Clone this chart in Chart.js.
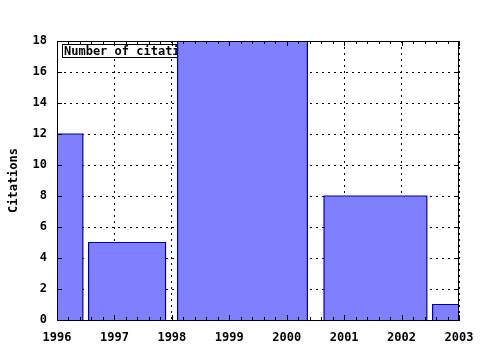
<!DOCTYPE html>
<html>
<head>
<meta charset="utf-8">
<script src="https://cdn.jsdelivr.net/npm/chart.js@4/dist/chart.umd.min.js"></script>
<style>
  html, body { margin: 0; padding: 0; background: #fff; }
  canvas { display: block; }
</style>
</head>
<body>
<canvas id="chart" width="480" height="350"></canvas>
<script>
// Citations per period (bars span from barStart to barEnd on the year axis)
const barStart  = [1996.0, 1996.55, 1998.10, 2000.65, 2002.54];
const barEnd    = [1996.45, 1997.89, 2000.36, 2002.44, 2003.0];
const citations = [12, 5, 18, 8, 1];
const seriesName = 'Number of citations';

const FONT = { family: 'DejaVu Sans Mono', size: 12, weight: 'bold' };

// one closed rectangle per bar, filled down to y = 0
const datasets = citations.map((v, i) => ({
  label: seriesName,
  data: [
    { x: barStart[i], y: 0 },
    { x: barStart[i], y: v },
    { x: barEnd[i],   y: v },
    { x: barEnd[i],   y: 0 },
  ],
  showLine: true,
  fill: 'origin',
  backgroundColor: '#8080ff',
  borderColor: '#0000a0',
  borderWidth: 1.2,
  pointRadius: 0,
  tension: 0,
}));

/* ── Key box, drawn under the bars ─────────────────── */
const keyBox = {
  id: 'keyBox',
  beforeDatasetsDraw(chart) {
    const { ctx, chartArea } = chart;
    ctx.save();
    ctx.font = `${FONT.weight} ${FONT.size}px "${FONT.family}"`;
    const x = chartArea.left + 5.5, y = chartArea.top + 3.5;
    const w = ctx.measureText(seriesName).width + 4, h = 13;
    ctx.fillStyle = '#fff';
    ctx.fillRect(x, y, w, h);
    ctx.strokeStyle = '#000';
    ctx.lineWidth = 1;
    ctx.strokeRect(x, y, w, h);
    ctx.fillStyle = '#000';
    ctx.textBaseline = 'middle';
    ctx.fillText(seriesName, x + 1.5, y + h / 2 + 0.5);
    ctx.restore();
  },
};

/* ── Frame + inward tick marks ─────────────────────── */
const frame = {
  id: 'frame',
  afterDatasetsDraw(chart) {
    const { ctx, chartArea: a, scales } = chart;
    ctx.save();
    ctx.strokeStyle = '#000';
    ctx.lineWidth = 1;
    ctx.strokeRect(Math.round(a.left) + 0.5, Math.round(a.top) + 0.5,
                   Math.round(a.right - a.left) - 1, Math.round(a.bottom - a.top));
    ctx.beginPath();
    for (let k = 0; k <= 35; k++) {
      const v = 1996 + k * 0.2;
      const px = Math.round(scales.x.getPixelForValue(v)) + 0.5;
      const len = k % 5 === 0 ? 5 : 3;
      ctx.moveTo(px, a.bottom); ctx.lineTo(px, a.bottom - len);
      ctx.moveTo(px, a.top);    ctx.lineTo(px, a.top + len);
    }
    for (let v = 0; v <= 18; v += 2) {
      const py = Math.round(scales.y.getPixelForValue(v)) + 0.5;
      ctx.moveTo(a.left, py);  ctx.lineTo(a.left + 5, py);
      ctx.moveTo(a.right, py); ctx.lineTo(a.right - 5, py);
    }
    ctx.stroke();
    ctx.restore();
  },
};

new Chart(document.getElementById('chart'), {
  type: 'scatter',
  data: { datasets },
  options: {
    responsive: false,
    animation: false,
    layout: { padding: { top: 41, right: 21, left: 0, bottom: 0 } },
    plugins: {
      legend:  { display: false },
      tooltip: { enabled: false },
    },
    scales: {
      x: {
        type: 'linear',
        min: 1996,
        max: 2003,
        afterFit: s => { s.height = 30; s.paddingLeft = 0; s.paddingRight = 0; },
        ticks: {
          stepSize: 1,
          color: '#000',
          font: FONT,
          padding: 11,
          maxRotation: 0,
          callback: v => String(v),
        },
        grid: { color: '#000', lineWidth: 1, drawTicks: false },
        border: { display: true, color: '#000', width: 1, dash: [2, 4] },
      },
      y: {
        min: 0,
        max: 18,
        afterFit: s => { s.width = 57; s.paddingTop = 0; s.paddingBottom = 0; },
        ticks: { stepSize: 2, color: '#000', font: FONT, padding: 10 },
        grid: { color: '#000', lineWidth: 1, drawTicks: false },
        border: { display: true, color: '#000', width: 1, dash: [2, 4] },
        title: { display: true, text: 'Citations', color: '#000', font: FONT, padding: { top: 7, bottom: 0 } },
      },
    },
  },
  plugins: [keyBox, frame],
});
</script>
</body>
</html>
